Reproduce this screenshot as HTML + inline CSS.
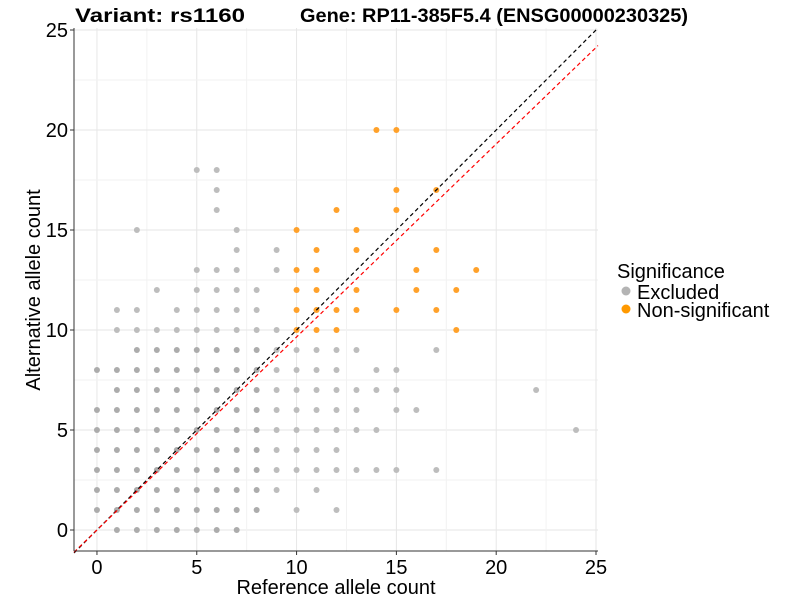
<!DOCTYPE html>
<html><head><meta charset="utf-8"><style>
body{margin:0;background:#fff;}
text{font-family:"Liberation Sans",Arial,sans-serif;}
</style></head><body>
<svg id="c" width="800" height="600" viewBox="0 0 800 600">
<g id="grid"></g>
<g id="pts"></g>
<g id="lines"></g>
<g id="axes"></g>
<text x="75" y="22" font-size="19" font-weight="bold" textLength="170" lengthAdjust="spacingAndGlyphs">Variant: rs1160</text>
<text x="300" y="22" font-size="19" font-weight="bold" textLength="388" lengthAdjust="spacingAndGlyphs">Gene: RP11-385F5.4 (ENSG00000230325)</text>
<text x="336" y="594" font-size="20" text-anchor="middle">Reference allele count</text>
<text transform="translate(40,290) rotate(-90)" font-size="20" text-anchor="middle">Alternative allele count</text>
<g>
<text x="617" y="278" font-size="20">Significance</text>
<circle cx="626" cy="291" r="4.5" fill="#b4b4b4"/>
<text x="637" y="299" font-size="20">Excluded</text>
<circle cx="626" cy="309" r="4.5" fill="#ff9900"/>
<text x="637" y="317" font-size="20">Non-significant</text>
</g>
</svg>
<script>
const grayX=[5,6,6,6,2,7,7,5,6,7,3,5,6,7,8,1,2,4,5,6,7,8,1,2,3,4,5,6,7,8,2,3,4,5,6,7,8,
0,1,2,3,4,5,6,7,8, 1,2,3,4,5,6,7,8, 0,1,2,3,4,5,6,7,8, 0,1,2,3,4,5,6,7,8, 0,1,2,3,4,5,6,7,8,
0,1,2,3,4,5,6,7,8, 0,1,2,3,4,5,6,7,8, 0,1,2,3,4,5,6,7,8, 1,2,3,4,5,6,7,
9,9,9, 9,10,11,12,13,17, 9,10,11,12,14,15, 9,10,11,12,13,14,15, 9,10,11,12,13,15,16,
9,10,11,12,13,14, 9,10,11,12, 9,10,11,12,13,14,15,17, 9,11, 10,12, 22,24];
const grayY=[18,18,17,16,15,15,14,13,13,13,12,12,12,12,12,11,11,11,11,11,11,11,10,10,10,10,10,10,10,10,9,9,9,9,9,9,9,
8,8,8,8,8,8,8,8,8, 7,7,7,7,7,7,7,7, 6,6,6,6,6,6,6,6,6, 5,5,5,5,5,5,5,5,5, 4,4,4,4,4,4,4,4,4,
3,3,3,3,3,3,3,3,3, 2,2,2,2,2,2,2,2,2, 1,1,1,1,1,1,1,1,1, 0,0,0,0,0,0,0,
14,13,10, 9,9,9,9,9,9, 8,8,8,8,8,8, 7,7,7,7,7,7,7, 6,6,6,6,6,6,6,
5,5,5,5,5,5, 4,4,4,4, 3,3,3,3,3,3,3,3, 2,2, 1,1, 7,5];
const orangeX=[14,15,15,17,12,15,10,13,11,13,17,10,11,16,19,10,11,13,16,18,10,11,12,13,15,17,10,11,12,18];
const orangeY=[20,20,17,17,16,16,15,15,14,14,14,13,13,13,13,12,12,12,12,12,11,11,11,11,11,11,10,10,10,10];
const xTicks=[0,5,10,15,20,25];
const yTicks=[0,5,10,15,20,25];
const redSlope=0.965;
const NS='http://www.w3.org/2000/svg';
const x0=-1.15,x1=25.1,y0=-1.05,y1=25.1;
const L=74,R=598,T=28,B=551;
const sx=v=>L+(v-x0)/(x1-x0)*(R-L);
const sy=v=>B-(v-y0)/(y1-y0)*(B-T);
function mk(tag,parent,attrs){const e=document.createElementNS(NS,tag);for(const k in attrs)e.setAttribute(k,attrs[k]);parent.appendChild(e);return e;}
const grid=document.getElementById('grid');
for(let v=0;v<=25;v+=2.5){
 let a=mk('line',grid,{x1:sx(v),x2:sx(v),y1:T,y2:B,stroke:v%5?'#f2f2f2':'#e6e6e6','stroke-width':1});
 
 
 let b=mk('line',grid,{x1:L,x2:R,y1:sy(v),y2:sy(v),stroke:v%5?'#f2f2f2':'#e6e6e6','stroke-width':1});
 
 
}
const pts=document.getElementById('pts');
for(let i=0;i<grayX.length;i++){
 let c=mk('circle',pts,{cx:sx(grayX[i]),cy:sy(grayY[i]),r:3,fill:(grayX[i]<=8&&grayY[i]<=9)?'#acacac':'#bdbdbd'});
 
 
}
for(let i=0;i<orangeX.length;i++){
 let c=mk('circle',pts,{cx:sx(orangeX[i]),cy:sy(orangeY[i]),r:3,fill:'#ffa12a'});
 
 
}
const lines=document.getElementById('lines');
let bl=mk('line',lines,{x1:sx(x0),y1:sy(x0),x2:sx(y1),y2:sy(y1),stroke:'#000','stroke-width':1.2,'stroke-dasharray':'4 3'});


let rl=mk('line',lines,{x1:sx(x0),y1:sy(x0*redSlope),x2:sx(x1),y2:sy(x1*redSlope),stroke:'#ff0000','stroke-width':1.2,'stroke-dasharray':'4 3'});


const axes=document.getElementById('axes');
let ya=mk('line',axes,{x1:L,x2:L,y1:T,y2:B,stroke:'#333','stroke-width':1});


let xa=mk('line',axes,{x1:L,x2:R,y1:B,y2:B,stroke:'#333','stroke-width':1});


xTicks.forEach(v=>{
 let t=mk('line',axes,{x1:sx(v),x2:sx(v),y1:B,y2:B+4,stroke:'#333'});
 
 
 let l=mk('text',axes,{x:sx(v),y:B+23,'font-size':20,'text-anchor':'middle',fill:'#000'});
 l.textContent=v;
 
 
});
yTicks.forEach(v=>{
 let t=mk('line',axes,{x1:L-4,x2:L,y1:sy(v),y2:sy(v),stroke:'#333'});
 
 
 let l=mk('text',axes,{x:L-6,y:sy(v)+7,'font-size':20,'text-anchor':'end',fill:'#000'});
 l.textContent=v;
 
 
});
</script>
</body></html>
